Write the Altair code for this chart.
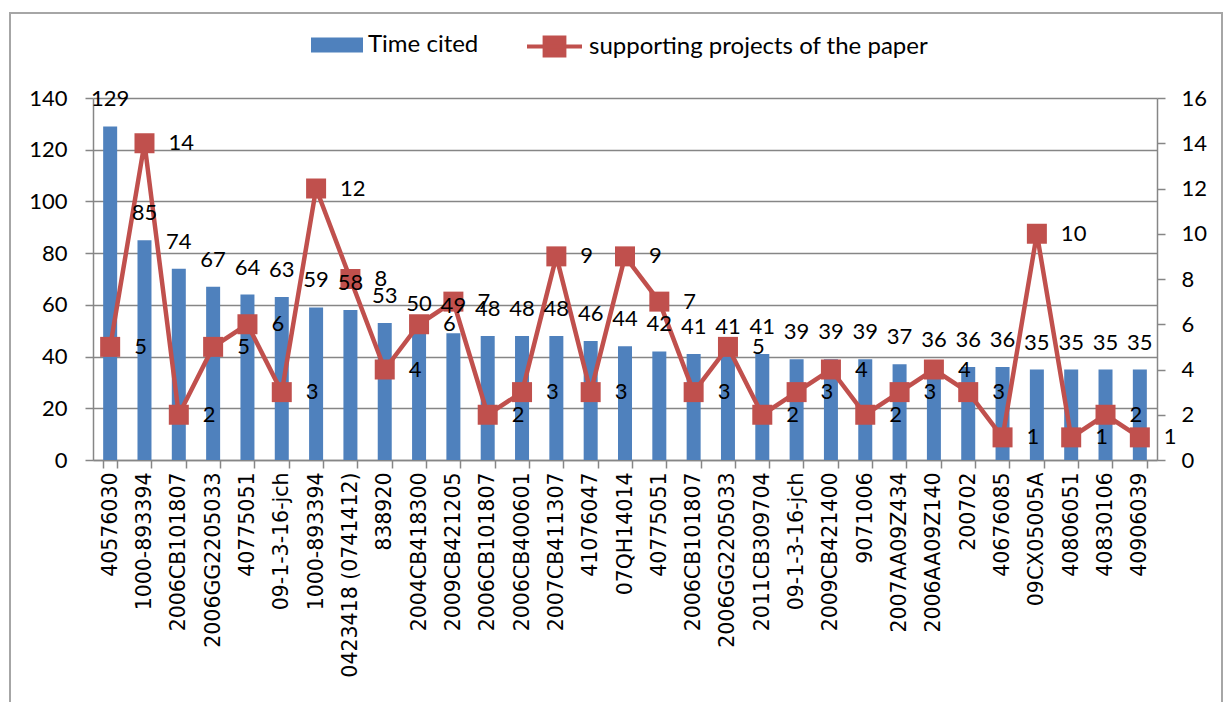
import json
import altair as alt
import pandas as pd

# Funding projects (x categories, in ranking order)
projects = [
    "40576030", "1000-893394", "2006CB101807", "2006GG2205033", "40775051",
    "09-1-3-16-jch", "1000-893394", "0423418 (0741412)", "838920", "2004CB418300",
    "2009CB421205", "2006CB101807", "2006CB400601", "2007CB411307", "41076047",
    "07QH14014", "40775051", "2006CB101807", "2006GG2205033", "2011CB309704",
    "09-1-3-16-jch", "2009CB421400", "9071006", "2007AA09Z434", "2006AA09Z140",
    "200702", "40676085", "09CX05005A", "40806051", "40830106", "40906039",
]
# Times the paper was cited (left axis)
time_cited = [129, 85, 74, 67, 64, 63, 59, 58, 53, 50, 49, 48, 48, 48, 46, 44,
              42, 41, 41, 41, 39, 39, 39, 37, 36, 36, 36, 35, 35, 35, 35]
# Number of supporting projects of the paper (right axis)
supporting = [5, 14, 2, 5, 6, 3, 12, 8, 4, 6, 7, 2, 3, 9, 3, 9, 7, 3, 5, 2,
              3, 4, 2, 3, 4, 3, 1, 10, 1, 2, 1]

BAR_NAME = "Time cited"
LINE_NAME = "supporting projects of the paper"
BLUE = "#4F81BD"
RED = "#C0504D"
GRID = "#868686"

df = pd.DataFrame({
    "i": list(range(len(projects))),
    "cited": time_cited,
    "supports": supporting,
    "s1": BAR_NAME,
    "s2": LINE_NAME,
})

label_expr = json.dumps(projects) + "[datum.value]"

x_enc = alt.X(
    "i:O",
    title=None,
    scale=alt.Scale(paddingInner=0.6, paddingOuter=0.3),
    axis=alt.Axis(
        labelExpr=label_expr,
        labelAngle=-90,
        labelFont="DejaVu Sans",
        labelFontSize=20.5,
        labelColor="black",
        labelPadding=4,
        labelLimit=400,
        tickBand="extent",
        tickSize=8,
        tickColor=GRID,
        tickWidth=1.5,
        domainColor=GRID,
        domainWidth=1.5,
        grid=False,
    ),
)

left_scale = alt.Scale(domain=[0, 140], nice=False, zero=True)
right_scale = alt.Scale(domain=[0, 16], nice=False, zero=True)

base = alt.Chart(df)

bars = base.mark_bar(size=14).encode(
    x=x_enc,
    y=alt.Y(
        "cited:Q",
        title=None,
        scale=left_scale,
        axis=alt.Axis(
            values=list(range(0, 141, 20)),
            grid=True,
            gridColor=GRID,
            gridWidth=1.5,
            domainColor=GRID,
            domainWidth=1.5,
            tickColor=GRID,
            tickWidth=1.5,
            tickSize=8,
            labelPadding=18,
            labelFont="Lato",
            labelFontSize=22,
            labelColor="black",
        ),
    ),
    color=alt.Color(
        "s1:N",
        scale=alt.Scale(domain=[BAR_NAME], range=[BLUE]),
        legend=alt.Legend(
            title=None,
            orient="none",
            legendX=218,
            legendY=-79,
            padding=0,
            symbolType="M-1,-0.29H1V0.29H-1Z",
            symbolSize=2704,
            symbolStrokeWidth=0,
            symbolOpacity=1,
            labelFont="Lato",
            labelFontSize=24,
            labelColor="black",
            labelOffset=5,
            labelLimit=500,
        ),
    ),
)

line = base.mark_line(strokeWidth=4.5).encode(
    x=x_enc,
    y=alt.Y(
        "supports:Q",
        title=None,
        scale=right_scale,
        axis=alt.Axis(
            orient="right",
            values=list(range(0, 17, 2)),
            grid=False,
            domainColor=GRID,
            domainWidth=1.5,
            tickColor=GRID,
            tickWidth=1.5,
            tickSize=8,
            labelPadding=16,
            labelFont="Lato",
            labelFontSize=22,
            labelColor="black",
        ),
    ),
    stroke=alt.Stroke(
        "s2:N",
        scale=alt.Scale(domain=[LINE_NAME], range=[RED]),
        legend=alt.Legend(
            title=None,
            orient="none",
            legendX=432,
            legendY=-81,
            padding=0,
            symbolType="M-1,0H1M-0.36,-0.33H0.36V0.33H-0.36Z",
            symbolSize=3025,
            symbolStrokeWidth=4,
            symbolFillColor=RED,
            symbolOpacity=1,
            labelFont="Lato",
            labelFontSize=24,
            labelColor="black",
            labelOffset=5,
            labelLimit=500,
        ),
    ),
)

points = base.mark_point(shape="square", filled=True, size=400, color=RED, opacity=1).encode(
    x=x_enc,
    y=alt.Y("supports:Q", scale=right_scale, axis=None),
)

bar_text = base.mark_text(
    font="Lato", fontSize=22, color="black", baseline="middle", align="center", dy=-27
).encode(
    x=x_enc,
    y=alt.Y("cited:Q", scale=left_scale, axis=None),
    text="cited:Q",
)

line_text = base.mark_text(
    font="Lato", fontSize=22, color="black", baseline="middle", align="left", dx=24
).encode(
    x=x_enc,
    y=alt.Y("supports:Q", scale=right_scale, axis=None),
    text="supports:Q",
)

# Outer border of the chart area
frame = alt.Chart(pd.DataFrame({"a": [0]})).mark_rect(
    fillOpacity=0, stroke="#a6a6a6", strokeWidth=2
).encode(
    x=alt.value(-83), x2=alt.value(1129), y=alt.value(-85), y2=alt.value(640)
)

chart = (
    alt.layer(frame, bars, line, points, bar_text, line_text)
    .resolve_scale(y="independent", color="independent", stroke="independent")
    .properties(
        width=1064,
        height=362,
        padding={"left": 93, "top": 98, "right": 72, "bottom": 242},
        autosize=alt.AutoSizeParams(type="none"),
        background="white",
    )
    .configure_view(strokeWidth=0)
)

chart.save("out.html", embed_options={"renderer": "svg", "actions": False})
